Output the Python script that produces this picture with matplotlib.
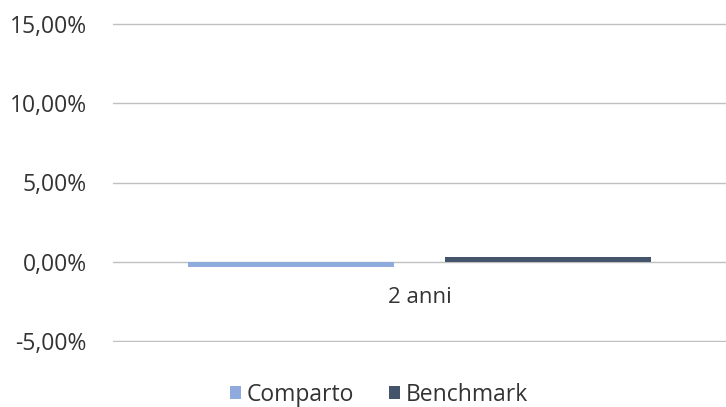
import matplotlib
matplotlib.use("Agg")
import matplotlib.pyplot as plt
from matplotlib.ticker import FuncFormatter

categories = ["2 anni"]
series_names = ["Comparto", "Benchmark"]
comparto = [-0.36]
benchmark = [0.32]
yticks = [-5, 0, 5, 10, 15]

colors = ["#8FAADC", "#44546A"]
text_color = "#333333"

plt.rcParams['font.family'] = ['Open Sans', 'DejaVu Sans']

fig = plt.figure(figsize=(7.26, 4.07), dpi=100)
ax = fig.add_axes([113/726, 1-342/407, 1-113/726, (342-23)/407])

w = 0.336
off = 0.2096
b1 = ax.bar([-off], comparto, width=w, color=colors[0], label=series_names[0], zorder=3)
b2 = ax.bar([off], benchmark, width=w, color=colors[1], label=series_names[1], zorder=3)

ax.set_xlim(-0.5, 0.5)
ax.set_ylim(-5.06, 15.06)
ax.set_yticks(yticks)
ax.yaxis.set_major_formatter(FuncFormatter(lambda v, p: f"{v:.2f}%".replace('.', ',')))
ax.grid(axis='y', color='#C0C0C0', linewidth=1, zorder=0)
ax.set_xticks([])
for s in ax.spines.values():
    s.set_visible(False)
ax.tick_params(axis='y', length=0, pad=19, labelsize=16.5, labelcolor=text_color)

ax.annotate(categories[0], xy=(0, 0), xycoords='data', xytext=(0, -18),
            textcoords='offset points', ha='center', va='top',
            fontsize=16, color=text_color)

fig.legend(handles=[b1, b2], labels=series_names, loc='center', bbox_to_anchor=(379/726, 1-395/407),
           ncol=2, frameon=False, fontsize=16.5, handlelength=0.5, handleheight=0.5,
           handletextpad=0.25, columnspacing=1.5, labelcolor=text_color)

fig.savefig("out.png", dpi=100)
